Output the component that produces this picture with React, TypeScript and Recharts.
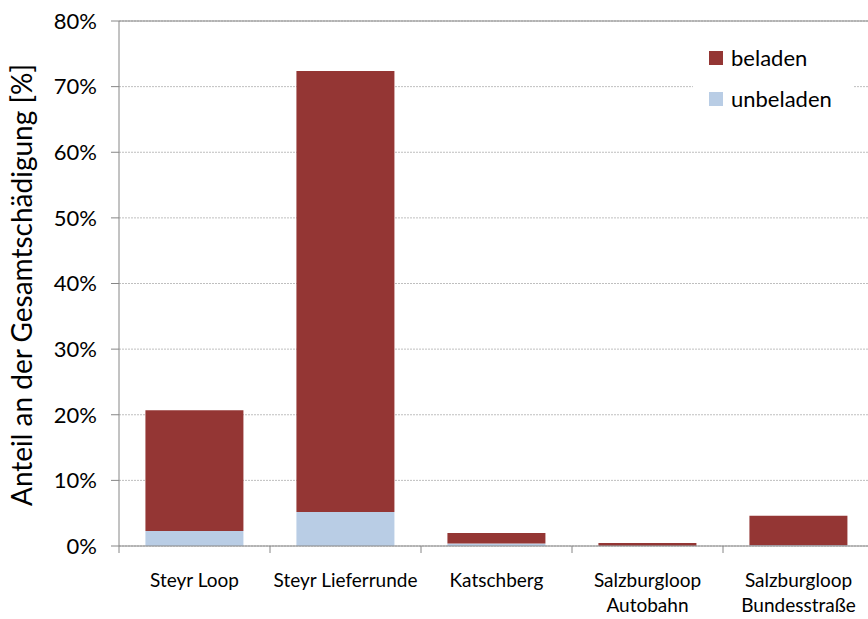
import React from "react";
import {
  BarChart,
  Bar,
  XAxis,
  YAxis,
  CartesianGrid,
  ReferenceLine,
} from "recharts";

const categories = [
  "Steyr Loop",
  "Steyr Lieferrunde",
  "Katschberg",
  "Salzburgloop\nAutobahn",
  "Salzburgloop\nBundesstraße",
];
const unbeladen = [2.3, 5.2, 0.4, 0.05, 0.1];
const beladen = [18.4, 67.2, 1.6, 0.4, 4.5];
const yTicks = [0, 10, 20, 30, 40, 50, 60, 70, 80];
const legendItems = ["beladen", "unbeladen"];

const FONT = "Lato, 'Open Sans', sans-serif";
const BELADEN = "#943634";
const UNBELADEN = "#B9CDE5";
const AXIS = "#868686";
const colors: Record<string, string> = { beladen: BELADEN, unbeladen: UNBELADEN };

const data = categories.map((name, i) => ({
  name,
  unbeladen: unbeladen[i],
  beladen: beladen[i],
}));

const XTick = ({ x, payload }: any) => {
  const lines = String(payload.value).split("\n");
  const half = 151 / 2;
  return (
    <g>
      <line x1={x - half} x2={x - half} y1={546} y2={553} stroke={AXIS} />
      <text x={x} y={587} textAnchor="middle" fontSize={19} fill="#000" fontFamily={FONT}>
        {lines.map((l: string, i: number) => (
          <tspan key={i} x={x} dy={i === 0 ? 0 : 25}>
            {l}
          </tspan>
        ))}
      </text>
    </g>
  );
};

export default function App() {
  return (
    <div
      style={{
        position: "absolute",
        left: 0,
        top: 0,
        width: 868,
        height: 619,
        overflow: "hidden",
        background: "#fff",
      }}
    >
      <BarChart
        width={876}
        height={619}
        data={data}
        margin={{ top: 21, right: 2, left: 0, bottom: 0 }}
        barCategoryGap="17.5%"
      >
        <CartesianGrid vertical={false} stroke="#BFBFBF" strokeDasharray="2 1" />
        <ReferenceLine y={80} stroke={AXIS} />
        <XAxis
          dataKey="name"
          height={73}
          tick={<XTick />}
          tickLine={false}
          axisLine={{ stroke: AXIS }}
          interval={0}
        />
        <YAxis
          width={119}
          domain={[0, 80]}
          ticks={yTicks}
          tickFormatter={(v) => `${v}%`}
          tick={{ fontSize: 22, fill: "#000", fontFamily: FONT }}
          tickLine={{ stroke: AXIS }}
          tickSize={8}
          tickMargin={14}
          axisLine={{ stroke: AXIS }}
          label={{
            content: () => (
              <text
                x={0}
                y={0}
                transform="translate(32 285) rotate(-90)"
                textAnchor="middle"
                fontSize={28}
                fontFamily={FONT}
                fill="#000"
              >
                Anteil an der Gesamtschädigung [%]
              </text>
            ),
          }}
        />
        <Bar dataKey="unbeladen" stackId="a" fill={UNBELADEN} isAnimationActive={false} />
        <Bar dataKey="beladen" stackId="a" fill={BELADEN} isAnimationActive={false} />
      </BarChart>
      <div
        style={{
          position: "absolute",
          left: 693,
          top: 37,
          width: 160,
          height: 80,
          background: "#fff",
          paddingLeft: 16,
          boxSizing: "border-box",
          fontFamily: FONT,
          fontSize: 22,
          color: "#000",
        }}
      >
        {legendItems.map((label) => (
          <div key={label} style={{ display: "flex", alignItems: "center", height: 41 }}>
            <span style={{ width: 14, height: 14, background: colors[label], marginRight: 8 }} />
            <span>{label}</span>
          </div>
        ))}
      </div>
    </div>
  );
}
